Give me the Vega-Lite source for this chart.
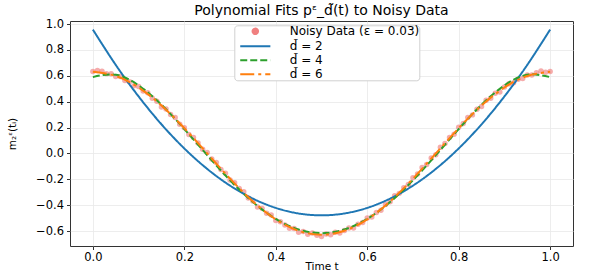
{
  "$schema": "https://vega.github.io/schema/vega-lite/v6.json",
  "width": 503,
  "height": 225,
  "autosize": {"type": "none"},
  "padding": {"left": 70, "top": 21, "right": 22, "bottom": 32},
  "config": {
    "font": "DejaVu Sans",
    "view": {"stroke": "#333", "strokeWidth": 1},
    "axis": {"domain": false, "gridColor": "#e8e8e8", "gridWidth": 0.8, "tickColor": "#333", "tickSize": 3.5, "labelFontSize": 11.5, "labelColor": "#000", "titleFontSize": 10.5, "titleFontWeight": "normal", "titleColor": "#000", "labelFont": "DejaVu Sans", "titleFont": "DejaVu Sans", "labelOverlap": false},
    "legend": {
      "orient": "none", "legendX": 164.3, "legendY": 4.3,
      "labelFont": "DejaVu Sans", "labelFontSize": 12, "labelColor": "#000",
      "fillColor": "white", "strokeColor": "#d0d0d0", "cornerRadius": 3, "padding": 0,
      "symbolSize": 30, "symbolStrokeWidth": 2, "symbolOpacity": 1,
      "symbolOffset": 15, "labelOffset": 28.4, "rowPadding": 2
    }
  },
  "title": {"text": "Polynomial Fits pᵋ_d̃(t) to Noisy Data", "fontSize": 14, "fontWeight": "normal", "font": "DejaVu Sans", "offset": 0, "color": "#000"},
  "layer": [
    {
      "data": {"values": [
        {"t":0.00,"y":0.634},{"t":0.01,"y":0.641},{"t":0.02,"y":0.635},{"t":0.03,"y":0.617},{"t":0.04,"y":0.616},
        {"t":0.05,"y":0.595},{"t":0.06,"y":0.594},{"t":0.07,"y":0.564},{"t":0.08,"y":0.555},{"t":0.09,"y":0.523},
        {"t":0.10,"y":0.517},{"t":0.11,"y":0.482},{"t":0.12,"y":0.469},{"t":0.13,"y":0.426},{"t":0.14,"y":0.404},
        {"t":0.15,"y":0.359},{"t":0.16,"y":0.344},{"t":0.17,"y":0.301},{"t":0.18,"y":0.277},{"t":0.19,"y":0.225},
        {"t":0.20,"y":0.199},{"t":0.21,"y":0.147},{"t":0.22,"y":0.124},{"t":0.23,"y":0.080},{"t":0.24,"y":0.032},
        {"t":0.25,"y":0.007},{"t":0.26,"y":-0.044},{"t":0.27,"y":-0.070},{"t":0.28,"y":-0.124},{"t":0.29,"y":-0.154},
        {"t":0.30,"y":-0.205},{"t":0.31,"y":-0.227},{"t":0.32,"y":-0.272},{"t":0.33,"y":-0.296},{"t":0.34,"y":-0.345},
        {"t":0.35,"y":-0.368},{"t":0.36,"y":-0.414},{"t":0.37,"y":-0.425},{"t":0.38,"y":-0.462},{"t":0.39,"y":-0.477},
        {"t":0.40,"y":-0.519},{"t":0.41,"y":-0.528},{"t":0.42,"y":-0.554},{"t":0.43,"y":-0.578},{"t":0.44,"y":-0.581},
        {"t":0.45,"y":-0.610},{"t":0.46,"y":-0.603},{"t":0.47,"y":-0.625},{"t":0.48,"y":-0.616},{"t":0.49,"y":-0.632},
        {"t":0.50,"y":-0.642},{"t":0.51,"y":-0.623},{"t":0.52,"y":-0.629},{"t":0.53,"y":-0.609},{"t":0.54,"y":-0.615},
        {"t":0.55,"y":-0.596},{"t":0.56,"y":-0.577},{"t":0.57,"y":-0.577},{"t":0.58,"y":-0.548},{"t":0.59,"y":-0.535},
        {"t":0.60,"y":-0.500},{"t":0.61,"y":-0.491},{"t":0.62,"y":-0.457},{"t":0.63,"y":-0.440},{"t":0.64,"y":-0.395},
        {"t":0.65,"y":-0.374},{"t":0.66,"y":-0.327},{"t":0.67,"y":-0.309},{"t":0.68,"y":-0.265},{"t":0.69,"y":-0.240},
        {"t":0.70,"y":-0.189},{"t":0.71,"y":-0.159},{"t":0.72,"y":-0.109},{"t":0.73,"y":-0.086},{"t":0.74,"y":-0.036},
        {"t":0.75,"y":-0.010},{"t":0.76,"y":0.048},{"t":0.77,"y":0.076},{"t":0.78,"y":0.123},{"t":0.79,"y":0.148},
        {"t":0.80,"y":0.202},{"t":0.81,"y":0.231},{"t":0.82,"y":0.278},{"t":0.83,"y":0.298},{"t":0.84,"y":0.342},
        {"t":0.85,"y":0.362},{"t":0.86,"y":0.411},{"t":0.87,"y":0.427},{"t":0.88,"y":0.465},{"t":0.89,"y":0.475},
        {"t":0.90,"y":0.513},{"t":0.91,"y":0.539},{"t":0.92,"y":0.547},{"t":0.93,"y":0.574},{"t":0.94,"y":0.580},
        {"t":0.95,"y":0.607},{"t":0.96,"y":0.607},{"t":0.97,"y":0.624},{"t":0.98,"y":0.637},{"t":0.99,"y":0.627},
        {"t":1.00,"y":0.633}
      ]},
      "transform": [{"calculate": "'Noisy Data (ε = 0.03)'", "as": "s"}],
      "mark": {"type": "point", "filled": true, "size": 30, "opacity": 0.65},
      "encoding": {
        "x": {"field": "t", "type": "quantitative", "scale": {"domain": [-0.05, 1.05], "nice": false, "zero": false},
              "axis": {"values": [0, 0.2, 0.4, 0.6, 0.8, 1.0], "tickCount": 10, "format": ".1f", "title": "Time t", "labelPadding": 2, "titlePadding": -1.5}},
        "y": {"field": "y", "type": "quantitative", "scale": {"domain": [-0.716, 1.024], "nice": false, "zero": false},
              "axis": {"values": [-0.6, -0.4, -0.2, 0, 0.2, 0.4, 0.6, 0.8, 1.0], "tickCount": 12, "format": ".1f", "title": "m₂ᵋ(tᵢ)", "labelPadding": 3, "titlePadding": 18}},
        "color": {"field": "s", "type": "nominal",
          "scale": {"domain": ["Noisy Data (ε = 0.03)", "d̃ = 2", "d̃ = 4", "d̃ = 6"], "range": ["#f08080", "#1f77b4", "#2ca02c", "#ff7f0e"]},
          "legend": {"title": null, "labelExpr": "datum.label + '\u00a0\u00a0\u00a0\u00a0\u00a0\u00a0\u00a0'"}},
        "shape": {"field": "s", "type": "nominal",
          "scale": {"domain": ["Noisy Data (ε = 0.03)", "d̃ = 2", "d̃ = 4", "d̃ = 6"], "range": ["circle", "M-5.5,0H5.5", "M-5.5,0H5.5", "M-5.5,0H5.5"]},
          "legend": {"title": null, "labelExpr": "datum.label + '\u00a0\u00a0\u00a0\u00a0\u00a0\u00a0\u00a0'"}}
      }
    },
    {
      "data": {"values": [
        {"t":0.00,"y":0.9575,"s":"d̃ = 2"},{"t":0.05,"y":0.6846,"s":"d̃ = 2"},{"t":0.10,"y":0.4405,"s":"d̃ = 2"},{"t":0.15,"y":0.2250,"s":"d̃ = 2"},
        {"t":0.20,"y":0.0383,"s":"d̃ = 2"},{"t":0.25,"y":-0.1197,"s":"d̃ = 2"},{"t":0.30,"y":-0.2490,"s":"d̃ = 2"},{"t":0.35,"y":-0.3495,"s":"d̃ = 2"},
        {"t":0.40,"y":-0.4213,"s":"d̃ = 2"},{"t":0.45,"y":-0.4644,"s":"d̃ = 2"},{"t":0.50,"y":-0.4788,"s":"d̃ = 2"},{"t":0.55,"y":-0.4644,"s":"d̃ = 2"},
        {"t":0.60,"y":-0.4213,"s":"d̃ = 2"},{"t":0.65,"y":-0.3495,"s":"d̃ = 2"},{"t":0.70,"y":-0.2490,"s":"d̃ = 2"},{"t":0.75,"y":-0.1197,"s":"d̃ = 2"},
        {"t":0.80,"y":0.0383,"s":"d̃ = 2"},{"t":0.85,"y":0.2250,"s":"d̃ = 2"},{"t":0.90,"y":0.4405,"s":"d̃ = 2"},{"t":0.95,"y":0.6846,"s":"d̃ = 2"},
        {"t":1.00,"y":0.9575,"s":"d̃ = 2"},
        {"t":0.00,"y":0.590,"s":"d̃ = 4"},{"t":0.05,"y":0.6083,"s":"d̃ = 4"},{"t":0.10,"y":0.5260,"s":"d̃ = 4"},{"t":0.15,"y":0.3763,"s":"d̃ = 4"},
        {"t":0.20,"y":0.1881,"s":"d̃ = 4"},{"t":0.25,"y":-0.0136,"s":"d̃ = 4"},{"t":0.30,"y":-0.2075,"s":"d̃ = 4"},{"t":0.35,"y":-0.3763,"s":"d̃ = 4"},
        {"t":0.40,"y":-0.5065,"s":"d̃ = 4"},{"t":0.45,"y":-0.5884,"s":"d̃ = 4"},{"t":0.50,"y":-0.6165,"s":"d̃ = 4"},{"t":0.55,"y":-0.5884,"s":"d̃ = 4"},
        {"t":0.60,"y":-0.5065,"s":"d̃ = 4"},{"t":0.65,"y":-0.3763,"s":"d̃ = 4"},{"t":0.70,"y":-0.2075,"s":"d̃ = 4"},{"t":0.75,"y":-0.0136,"s":"d̃ = 4"},
        {"t":0.80,"y":0.1881,"s":"d̃ = 4"},{"t":0.85,"y":0.3763,"s":"d̃ = 4"},{"t":0.90,"y":0.5260,"s":"d̃ = 4"},{"t":0.95,"y":0.6083,"s":"d̃ = 4"},
        {"t":1.00,"y":0.590,"s":"d̃ = 4"},
        {"t":0.00,"y":0.631,"s":"d̃ = 6"},{"t":0.05,"y":0.5984,"s":"d̃ = 6"},{"t":0.10,"y":0.5099,"s":"d̃ = 6"},{"t":0.15,"y":0.3711,"s":"d̃ = 6"},
        {"t":0.20,"y":0.1952,"s":"d̃ = 6"},{"t":0.25,"y":-0.0003,"s":"d̃ = 6"},{"t":0.30,"y":-0.1954,"s":"d̃ = 6"},{"t":0.35,"y":-0.3710,"s":"d̃ = 6"},
        {"t":0.40,"y":-0.5098,"s":"d̃ = 6"},{"t":0.45,"y":-0.5986,"s":"d̃ = 6"},{"t":0.50,"y":-0.629,"s":"d̃ = 6"},{"t":0.55,"y":-0.5986,"s":"d̃ = 6"},
        {"t":0.60,"y":-0.5098,"s":"d̃ = 6"},{"t":0.65,"y":-0.3710,"s":"d̃ = 6"},{"t":0.70,"y":-0.1954,"s":"d̃ = 6"},{"t":0.75,"y":-0.0003,"s":"d̃ = 6"},
        {"t":0.80,"y":0.1952,"s":"d̃ = 6"},{"t":0.85,"y":0.3711,"s":"d̃ = 6"},{"t":0.90,"y":0.5099,"s":"d̃ = 6"},{"t":0.95,"y":0.5984,"s":"d̃ = 6"},
        {"t":1.00,"y":0.631,"s":"d̃ = 6"}
      ]},
      "mark": {"type": "line", "strokeWidth": 2, "interpolate": "natural"},
      "encoding": {
        "x": {"field": "t", "type": "quantitative"},
        "y": {"field": "y", "type": "quantitative"},
        "color": {"field": "s", "type": "nominal",
          "legend": {"title": null, "labelExpr": "datum.label + '\u00a0\u00a0\u00a0\u00a0\u00a0\u00a0\u00a0'"}},
        "strokeDash": {"field": "s", "type": "nominal",
          "scale": {"domain": ["Noisy Data (ε = 0.03)", "d̃ = 2", "d̃ = 4", "d̃ = 6"], "range": [[1, 0], [1, 0], [7, 3], [14, 4, 3, 4]]},
          "legend": {"title": null, "labelExpr": "datum.label + '\u00a0\u00a0\u00a0\u00a0\u00a0\u00a0\u00a0'"}}
      }
    }
  ]
}
